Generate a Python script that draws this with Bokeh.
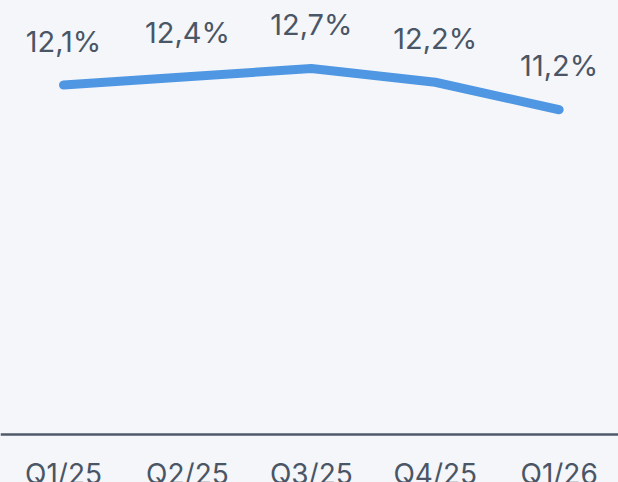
from bokeh.plotting import figure
from bokeh.models import Range1d, LinearAxis, FixedTicker, ColumnDataSource
from bokeh.core.properties import value
from bokeh.embed import file_html
from bokeh.resources import INLINE

# ---- data ----
quarters = ["Q1/25", "Q2/25", "Q3/25", "Q4/25", "Q1/26"]
rates = [12.1, 12.4, 12.7, 12.2, 11.2]
rate_labels = ["12,1%", "12,4%", "12,7%", "12,2%", "11,2%"]

BG = "#f4f6fa"
LINE = "#4f97e3"
TXT = "#4a5565"
FONT = "Inter"

W, H = 618, 482
idx = list(range(len(quarters)))

src = ColumnDataSource(dict(x=idx, y=rates, lab=rate_labels))

Y_TOP, Y_BOT = 15.173, -2.355
AXIS_AT = -0.627

p = figure(width=W, height=H, output_backend="svg", toolbar_location=None,
           x_axis_type=None, y_axis_type=None,
           x_range=Range1d(-0.5085, 4.479), y_range=Range1d(Y_BOT, Y_TOP),
           min_border=0)
p.background_fill_color = BG
p.border_fill_color = BG
p.outline_line_color = None
p.grid.visible = False

ax = LinearAxis(ticker=FixedTicker(ticks=idx), fixed_location=AXIS_AT,
                major_label_overrides={i: q for i, q in zip(idx, quarters)})
ax.axis_line_color = "#4f5a69"
ax.axis_line_width = 2.4
ax.major_tick_line_color = None
ax.minor_tick_line_color = None
ax.major_tick_out = 0
ax.major_tick_in = 0
ax.major_label_standoff = 22
ax.major_label_text_font = FONT
ax.major_label_text_font_size = "28px"
ax.major_label_text_color = TXT
p.add_layout(ax, "below")

p.line("x", "y", source=src, line_color=LINE, line_width=9, line_cap="round", line_join="round")
p.text("x", "y", text="lab", source=src, text_align="center", text_baseline="middle",
       y_offset=-44, text_font=value(FONT), text_font_size="29px", text_color=TXT)

html = file_html(p, INLINE)
html = html.replace("</head>", "<style>html,body{margin:0;padding:0;background:%s;overflow:hidden}</style></head>" % BG, 1)
open("out.html", "w").write(html)
